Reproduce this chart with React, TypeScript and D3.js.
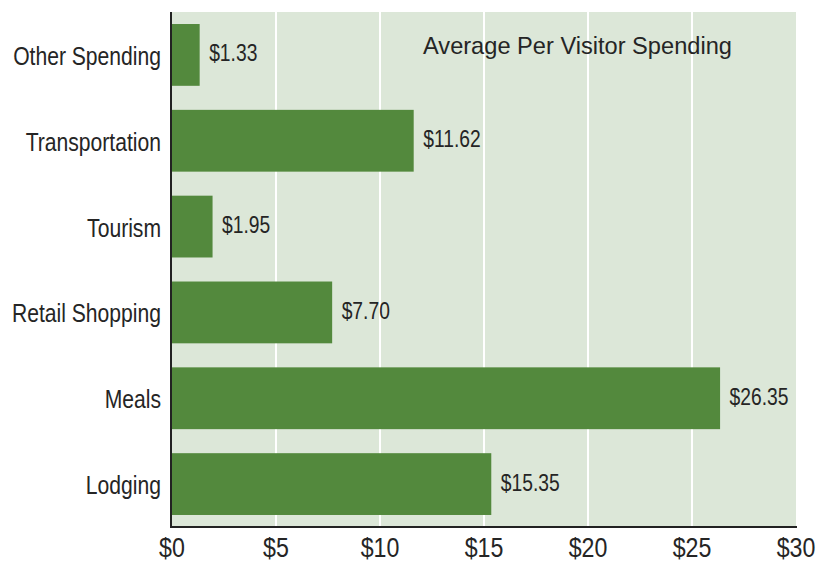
import React from "react";
import * as d3 from "d3";

const categories = ["Other Spending", "Transportation", "Tourism", "Retail Shopping", "Meals", "Lodging"];
const values = [1.33, 11.62, 1.95, 7.7, 26.35, 15.35];
const valueLabels = ["$1.33", "$11.62", "$1.95", "$7.70", "$26.35", "$15.35"];
const tickValues = [0, 5, 10, 15, 20, 25, 30];
const tickLabels = ["$0", "$5", "$10", "$15", "$20", "$25", "$30"];
const title = "Average Per Visitor Spending";

const W = 833, H = 561;
const FONT = "'Liberation Sans', Arial, sans-serif";

function NarrowText(props: { x: number; y: number; sx: number; size: number; anchor?: string; children: React.ReactNode }) {
  return (
    <g transform={`translate(${props.x},${props.y}) scale(${props.sx},1)`}>
      <text x={0} y={0} textAnchor={props.anchor || "start"} fontFamily={FONT} fontSize={props.size} fill="#252525">
        {props.children}
      </text>
    </g>
  );
}

export default function App() {
  const x = d3.scaleLinear().domain([0, 30]).range([172, 796]);
  const y = d3.scaleBand().domain(categories).range([12, 527]).paddingInner(0.28).paddingOuter(0.14);
  const top = 12, bottom = 527;
  return (
    <svg width={W} height={H} style={{ position: "absolute", left: 0, top: 0 }}>
      <rect x={x(0)} y={top} width={x(30) - x(0)} height={bottom - top} fill="#dce7d8" />
      {tickValues.slice(1, -1).map((t) => (
        <line key={t} x1={x(t)} x2={x(t)} y1={top} y2={bottom} stroke="#ffffff" strokeWidth={2} />
      ))}
      {categories.map((c, i) => {
        const cy = y(c)! + y.bandwidth() / 2;
        return (
          <g key={c}>
            <rect x={x(0)} y={y(c)!} width={x(values[i]) - x(0)} height={y.bandwidth()} fill="#53893d" />
            <NarrowText x={x(values[i]) + 9.5} y={cy + 6.5} sx={0.82} size={23.5}>
              {valueLabels[i]}
            </NarrowText>
            <NarrowText x={161} y={cy + 10} sx={0.845} size={25} anchor="end">
              {c}
            </NarrowText>
          </g>
        );
      })}
      <line x1={171} x2={171} y1={top} y2={bottom + 1} stroke="#222" strokeWidth={2} />
      <line x1={170} x2={797} y1={bottom} y2={bottom} stroke="#222" strokeWidth={2} />
      {tickValues.map((t, i) => (
        <NarrowText key={t} x={x(t)} y={557} sx={0.86} size={27} anchor="middle">
          {tickLabels[i]}
        </NarrowText>
      ))}
      <NarrowText x={423} y={54} sx={0.96} size={24.6}>{title}</NarrowText>
    </svg>
  );
}
